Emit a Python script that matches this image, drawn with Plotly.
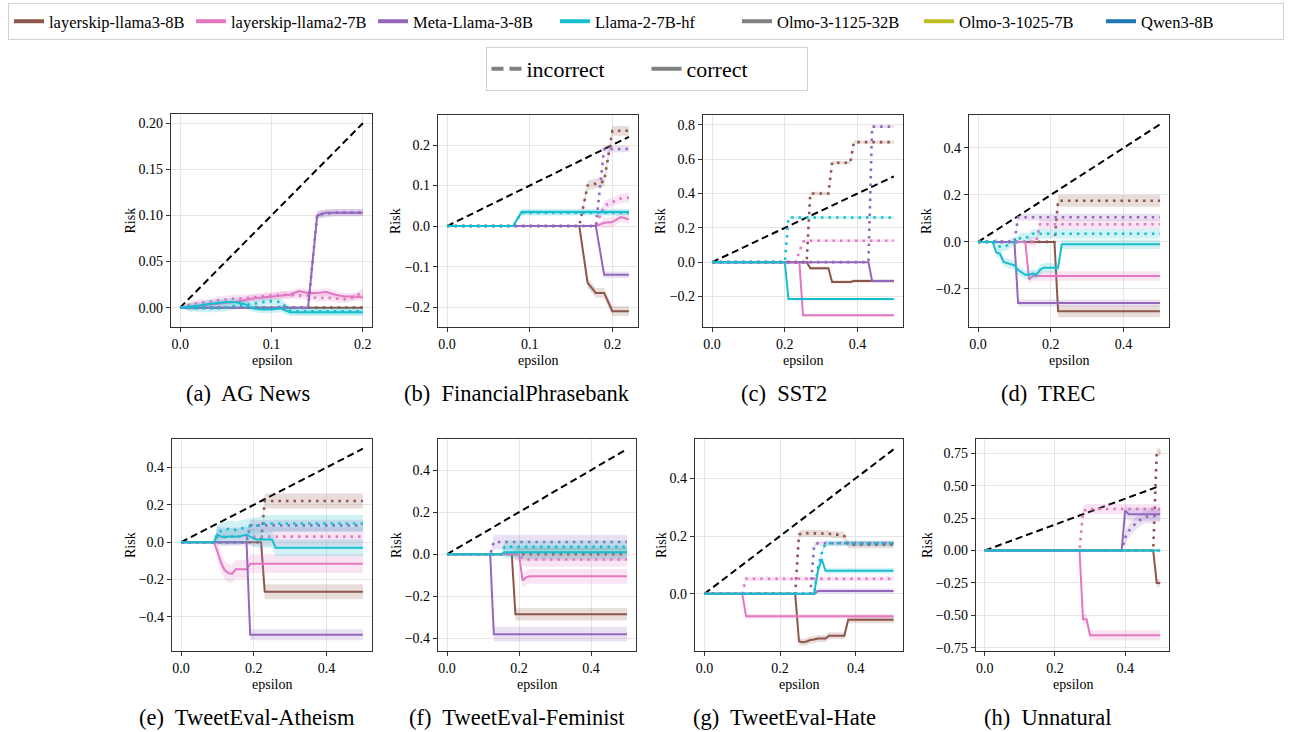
import plotly.graph_objects as go

# ---------------- legend / model data ----------------
MODELS = ["layerskip-llama3-8B", "layerskip-llama2-7B", "Meta-Llama-3-8B", "Llama-2-7B-hf",
          "Olmo-3-1125-32B", "Olmo-3-1025-7B", "Qwen3-8B"]
COLORS = ["#8c564b", "#e377c2", "#9467bd", "#17becf", "#7f7f7f", "#bcbd22", "#1f77b4"]
STYLE_LABELS = ["incorrect", "correct"]
X_TITLE = "epsilon"
Y_TITLE = "Risk"

# ---------------- epsilon grids ----------------
EPS_20 = [0.00, 0.01, 0.02, 0.03, 0.04, 0.05, 0.06, 0.07, 0.08, 0.09, 0.10,
          0.11, 0.12, 0.13, 0.14, 0.15, 0.16, 0.17, 0.18, 0.19, 0.20]
EPS_22 = [0.00, 0.01, 0.02, 0.03, 0.04, 0.05, 0.06, 0.07, 0.08, 0.09, 0.10,
          0.11, 0.12, 0.13, 0.14, 0.15, 0.16, 0.17, 0.18, 0.19, 0.20, 0.21, 0.22]
EPS_50 = [0.00, 0.01, 0.02, 0.03, 0.04, 0.05, 0.06, 0.07, 0.08, 0.09,
          0.10, 0.11, 0.12, 0.13, 0.14, 0.15, 0.16, 0.17, 0.18, 0.19,
          0.20, 0.21, 0.22, 0.23, 0.24, 0.25, 0.26, 0.27, 0.28, 0.29,
          0.30, 0.31, 0.32, 0.33, 0.34, 0.35, 0.36, 0.37, 0.38, 0.39,
          0.40, 0.41, 0.42, 0.43, 0.44, 0.45, 0.46, 0.47, 0.48, 0.49, 0.50]

# Series order in every panel: layerskip-llama3-8B, layerskip-llama2-7B, Meta-Llama-3-8B, Llama-2-7B-hf
# ---------------- (a) AG News ----------------
AG_CORRECT = [
    [0.0] * 21,
    [0, 0.001, 0.002, 0.003, 0.004, 0.005, 0.006, 0.008, 0.010, 0.011, 0.012,
     0.013, 0.014, 0.018, 0.016, 0.016, 0.017, 0.014, 0.012, 0.012, 0.011],
    [0.0] * 15 + [0.100, 0.103, 0.103, 0.103, 0.103, 0.103],
    [0, 0.001, 0.002, 0.004, 0.005, 0.006, 0.006, 0.004, -0.001, -0.002, -0.002,
     -0.001, -0.005, -0.005, -0.005, -0.005, -0.005, -0.005, -0.005, -0.005, -0.005],
]
AG_INCORRECT = [
    [0.0] * 21,
    [0, 0.003, 0.005, 0.006, 0.008, 0.009, 0.010, 0.010, 0.011, 0.012, 0.013,
     0.014, 0.014, 0.013, 0.013, 0.010, 0.011, 0.010, 0.009, 0.011, 0.017],
    [0.0] * 15 + [0.101, 0.102, 0.103, 0.103, 0.103, 0.103],
    [0, 0.000, -0.001, -0.001, -0.001, 0.000, 0.002, 0.003, 0.004, 0.006, 0.007,
     0.006, -0.003, -0.004, -0.004, -0.004, -0.004, -0.004, -0.004, -0.004, -0.004],
]
AG_BAND = [0.001, 0.004, 0.004, 0.004]

# ---------------- (b) FinancialPhrasebank ----------------
FP_CORRECT = [
    [0.0] * 17 + [-0.14, -0.165, -0.165, -0.21, -0.21, -0.21],
    [0.0] * 19 + [0.008, 0.010, 0.022, 0.017],
    [0.0] * 19 + [-0.12, -0.12, -0.12, -0.12],
    [0.0] * 9 + [0.035] * 14,
]
FP_INCORRECT = [
    [0.0] * 17 + [0.10, 0.105, 0.11, 0.235, 0.235, 0.235],
    [0.0] * 19 + [0.05, 0.06, 0.068, 0.07],
    [0.0] * 19 + [0.19, 0.19, 0.19, 0.19],
    [0.0] * 9 + [0.033] * 14,
]
FP_BAND = [0.012, 0.012, 0.008, 0.007]

# ---------------- (c) SST2 ----------------
SST_CORRECT = [
    [0.0] * 27 + [-0.035] * 6 + [-0.115] * 6 + [-0.11] * 12,
    [0.0] * 25 + [-0.31] * 26,
    [0.0] * 44 + [-0.11] * 7,
    [0.0] * 21 + [-0.215] * 30,
]
SST_INCORRECT = [
    [0.0] * 27 + [0.40] * 6 + [0.58] * 6 + [0.70] * 12,
    [0.0] * 24 + [0.06, 0.12] + [0.125] * 25,
    [0.0] * 44 + [0.79] * 7,
    [0.0] * 21 + [0.26] * 30,
]
SST_BAND = [0.01, 0.008, 0.008, 0.008]

# ---------------- (d) TREC ----------------
TREC_CORRECT = [
    [0.0] * 22 + [-0.295] * 29,
    [0.0] * 14 + [-0.16] + [-0.145] * 36,
    [0.0] * 11 + [-0.26] * 40,
    [0.0] * 5 + [-0.045, -0.05, -0.085, -0.09, -0.095, -0.10, -0.12, -0.13, -0.14,
                 -0.14, -0.135, -0.14, -0.12, -0.11, -0.11, -0.11, -0.11, -0.11] + [-0.01] * 28,
]
TREC_INCORRECT = [
    [0.0] * 22 + [0.175] * 29,
    [0.0] * 17 + [0.075] * 34,
    [0.0] * 11 + [0.105] * 40,
    [0.0] * 6 + [-0.02, -0.02, -0.015, -0.005, 0.0, 0.01, 0.02, 0.02, 0.02, 0.035] + [0.035] * 35,
]
TREC_BAND = [0.025, 0.02, 0.015, 0.02]

# ---------------- (e) TweetEval-Atheism ----------------
ATH_CORRECT = [
    [0.0] * 23 + [-0.265] * 28,
    [0.0] * 10 + [-0.05, -0.11, -0.15, -0.165, -0.17, -0.145, -0.145, -0.145, -0.145] + [-0.115] * 32,
    [0.0] * 19 + [-0.495] * 32,
    [0.0] * 10 + [0.04, 0.03, 0.025, 0.03, 0.03, 0.03, 0.03, 0.035, 0.04, 0.03,
                  0.02, 0.015, 0.015, 0.015, 0.015, 0.015] + [-0.03] * 25,
]
ATH_INCORRECT = [
    [0.0] * 23 + [0.22] * 28,
    [0.0] * 10 + [0.03] * 41,
    [0.0] * 19 + [0.09] * 32,
    [0.0] * 10 + [0.05, 0.06, 0.065, 0.07, 0.07, 0.065, 0.07, 0.075, 0.08, 0.085,
                  0.085, 0.09, 0.095, 0.10, 0.10, 0.10] + [0.10] * 25,
]
ATH_BAND = [0.04, 0.05, 0.03, 0.045]

# ---------------- (f) TweetEval-Feminist ----------------
FEM_CORRECT = [
    [0.0] * 19 + [-0.285] * 32,
    [0.0] * 21 + [-0.125, -0.11] + [-0.105] * 28,
    [0.0] * 13 + [-0.38] * 38,
    [0.0] * 16 + [0.01] * 35,
]
FEM_INCORRECT = [
    [0.0] * 51,
    [0.0] * 21 + [-0.02] + [-0.025] * 29,
    [0.0] * 13 + [0.058] * 38,
    [0.0] * 16 + [0.035] * 35,
]
FEM_BAND = [0.03, 0.035, 0.035, 0.03]

# ---------------- (g) TweetEval-Hate ----------------
HATE_CORRECT = [
    [0.0] * 25 + [-0.165, -0.168, -0.165, -0.16, -0.158, -0.155, -0.155, -0.155,
                  -0.145, -0.145, -0.145, -0.145, -0.145] + [-0.09] * 13,
    [0.0] * 11 + [-0.078] * 40,
    [0.0] * 30 + [0.01] * 21,
    [0.0] * 30 + [0.08, 0.12, 0.08] + [0.08] * 18,
]
HATE_INCORRECT = [
    [0.0] * 25 + [0.205, 0.21, 0.21, 0.21, 0.21, 0.21, 0.208, 0.208, 0.208,
                  0.205, 0.205, 0.205, 0.20] + [0.17] * 13,
    [0.0] * 11 + [0.052] * 40,
    [0.0] * 29 + [0.17] + [0.175] * 21,
    [0.0] * 30 + [0.09, 0.14, 0.175] + [0.175] * 18,
]
HATE_BAND = [0.012, 0.008, 0.008, 0.01]

# ---------------- (h) Unnatural ----------------
UNN_CORRECT = [
    [0.0] * 49 + [-0.25, -0.25],
    [0.0] * 28 + [-0.53, -0.53] + [-0.655] * 21,
    [0.0] * 40 + [0.31, 0.28] + [0.28] * 9,
    [0.0] * 51,
]
UNN_INCORRECT = [
    [0.0] * 49 + [0.76, 0.76],
    [0.0] * 28 + [0.30] + [0.32] * 22,
    [0.0] * 40 + [0.10, 0.15, 0.18, 0.21, 0.23, 0.25, 0.26, 0.26, 0.265, 0.27, 0.27],
    [0.0] * 51,
]
UNN_BAND = [0.03, 0.04, 0.05, 0.01]

# ---------------- captions & ticks ----------------
CAPTIONS = ["(a)  AG News", "(b)  FinancialPhrasebank", "(c)  SST2", "(d)  TREC",
            "(e)  TweetEval-Atheism", "(f)  TweetEval-Feminist", "(g)  TweetEval-Hate", "(h)  Unnatural"]

XT_SMALL = [0.0, 0.1, 0.2]
XT_SMALL_TXT = ["0.0", "0.1", "0.2"]
XT_BIG = [0.0, 0.2, 0.4]
XT_BIG_TXT = ["0.0", "0.2", "0.4"]

YT_A = [0.0, 0.05, 0.10, 0.15, 0.20]
YT_A_TXT = ["0.00", "0.05", "0.10", "0.15", "0.20"]
YT_B = [-0.2, -0.1, 0.0, 0.1, 0.2]
YT_B_TXT = ["\u22120.2", "\u22120.1", "0.0", "0.1", "0.2"]
YT_C = [-0.2, 0.0, 0.2, 0.4, 0.6, 0.8]
YT_C_TXT = ["\u22120.2", "0.0", "0.2", "0.4", "0.6", "0.8"]
YT_D = [-0.2, 0.0, 0.2, 0.4]
YT_D_TXT = ["\u22120.2", "0.0", "0.2", "0.4"]
YT_E = [-0.4, -0.2, 0.0, 0.2, 0.4]
YT_E_TXT = ["\u22120.4", "\u22120.2", "0.0", "0.2", "0.4"]
YT_G = [0.0, 0.2, 0.4]
YT_G_TXT = ["0.0", "0.2", "0.4"]
YT_H = [-0.75, -0.5, -0.25, 0.0, 0.25, 0.5, 0.75]
YT_H_TXT = ["\u22120.75", "\u22120.50", "\u22120.25", "0.00", "0.25", "0.50", "0.75"]

PANELS = [
    dict(eps=EPS_20, c=AG_CORRECT, i=AG_INCORRECT, band=AG_BAND, xr=[-0.01, 0.21], yr=[-0.021, 0.21],
         xt=(XT_SMALL, XT_SMALL_TXT), yt=(YT_A, YT_A_TXT), px=(171, 372), py=(114, 327), rx=130),
    dict(eps=EPS_22, c=FP_CORRECT, i=FP_INCORRECT, band=FP_BAND, xr=[-0.011, 0.231], yr=[-0.249, 0.274],
         xt=(XT_SMALL, XT_SMALL_TXT), yt=(YT_B, YT_B_TXT), px=(438, 638), py=(115, 327), rx=396),
    dict(eps=EPS_50, c=SST_CORRECT, i=SST_INCORRECT, band=SST_BAND, xr=[-0.025, 0.525], yr=[-0.378, 0.858],
         xt=(XT_BIG, XT_BIG_TXT), yt=(YT_C, YT_C_TXT), px=(703, 903), py=(115, 327), rx=661),
    dict(eps=EPS_50, c=TREC_CORRECT, i=TREC_INCORRECT, band=TREC_BAND, xr=[-0.025, 0.525], yr=[-0.362, 0.54],
         xt=(XT_BIG, XT_BIG_TXT), yt=(YT_D, YT_D_TXT), px=(969, 1169), py=(115, 327), rx=927),
    dict(eps=EPS_50, c=ATH_CORRECT, i=ATH_INCORRECT, band=ATH_BAND, xr=[-0.025, 0.525], yr=[-0.582, 0.552],
         xt=(XT_BIG, XT_BIG_TXT), yt=(YT_E, YT_E_TXT), px=(172, 372), py=(439, 651), rx=130),
    dict(eps=EPS_50, c=FEM_CORRECT, i=FEM_INCORRECT, band=FEM_BAND, xr=[-0.025, 0.525], yr=[-0.46, 0.548],
         xt=(XT_BIG, XT_BIG_TXT), yt=(YT_E, YT_E_TXT), px=(438, 636), py=(439, 651), rx=396),
    dict(eps=EPS_50, c=HATE_CORRECT, i=HATE_INCORRECT, band=HATE_BAND, xr=[-0.025, 0.525], yr=[-0.198, 0.536],
         xt=(XT_BIG, XT_BIG_TXT), yt=(YT_G, YT_G_TXT), px=(695, 903), py=(439, 651), rx=661),
    dict(eps=EPS_50, c=UNN_CORRECT, i=UNN_INCORRECT, band=UNN_BAND, xr=[-0.025, 0.525], yr=[-0.776, 0.861],
         xt=(XT_BIG, XT_BIG_TXT), yt=(YT_H, YT_H_TXT), px=(976, 1169), py=(439, 651), rx=927),
]
CAPTION_POS = [(248, 393), (517, 393), (784, 393), (1048, 393),
               (247, 717), (517, 717), (784, 717), (1047, 717)]

W, H = 1292, 732
FONT = "Liberation Serif"


def rgba(hexcol, a):
    h = hexcol.lstrip("#")
    return "rgba(%d,%d,%d,%g)" % (int(h[0:2], 16), int(h[2:4], 16), int(h[4:6], 16), a)


fig = go.Figure()

for k, p in enumerate(PANELS):
    sfx = "" if k == 0 else str(k + 1)
    xa, ya = "x" + sfx, "y" + sfx
    eps = p["eps"]
    # y = x reference line
    fig.add_trace(go.Scatter(x=[eps[0], eps[-1]], y=[eps[0], eps[-1]], mode="lines",
                             line=dict(color="black", width=2, dash="7px,4px"),
                             xaxis=xa, yaxis=ya, showlegend=False, hoverinfo="skip"))
    for m in range(4):
        col = COLORS[m]
        hw = p["band"][m]
        cvals, ivals = p["c"][m], p["i"][m]
        active = [(a != 0) or (b != 0) for a, b in zip(cvals, ivals)]
        for vals, dash, lw in ((cvals, "solid", 2), (ivals, "2.5px,5px", 2.6)):
            hi = [v + (hw if act else 0) for v, act in zip(vals, active)]
            lo = [v - (hw if act else 0) for v, act in zip(vals, active)]
            fig.add_trace(go.Scatter(x=list(eps) + list(eps[::-1]), y=hi + lo[::-1],
                                     fill="toself", fillcolor=rgba(col, 0.2), mode="lines",
                                     line=dict(width=0, color=rgba(col, 0)),
                                     xaxis=xa, yaxis=ya, showlegend=False, hoverinfo="skip"))
            fig.add_trace(go.Scatter(x=eps, y=vals, mode="lines",
                                     line=dict(color=col, width=lw, dash=dash),
                                     xaxis=xa, yaxis=ya, showlegend=False, hoverinfo="skip"))

    x0, x1 = p["px"]
    y0, y1 = p["py"]
    axis_common = dict(showline=True, mirror=True, linecolor="#333333", linewidth=1.2,
                       ticks="outside", ticklen=4, tickcolor="#333333", tickwidth=1,
                       showgrid=True, gridcolor="#e6e6e6", gridwidth=1, zeroline=False,
                       tickfont=dict(family=FONT, size=14, color="black"))
    fig.update_layout(**{
        ("xaxis" + sfx): dict(domain=[x0 / W, x1 / W], anchor=ya, range=p["xr"],
                              tickmode="array", tickvals=p["xt"][0], ticktext=p["xt"][1],
                              **axis_common),
        ("yaxis" + sfx): dict(domain=[1 - y1 / H, 1 - y0 / H], anchor=xa, range=p["yr"],
                              tickmode="array", tickvals=p["yt"][0], ticktext=p["yt"][1],
                              **axis_common),
    })
    # axis titles
    title_y = 360 if y1 < 400 else 684
    fig.add_annotation(x=(x0 + x1) / 2 / W, y=1 - title_y / H, xref="paper", yref="paper",
                       text=X_TITLE, showarrow=False, xanchor="center", yanchor="middle",
                       font=dict(family=FONT, size=14, color="black"))
    fig.add_annotation(x=p["rx"] / W, y=1 - (y0 + y1) / 2 / H, xref="paper", yref="paper",
                       text=Y_TITLE, textangle=-90, showarrow=False, xanchor="center", yanchor="middle",
                       font=dict(family=FONT, size=14, color="black"))
    cx, cy = CAPTION_POS[k]
    fig.add_annotation(x=cx / W, y=1 - cy / H, xref="paper", yref="paper", text=CAPTIONS[k],
                       showarrow=False, xanchor="center", yanchor="middle",
                       font=dict(family=FONT, size=22.5, color="black"))

# legend entries (models)
for name, col in zip(MODELS, COLORS):
    fig.add_trace(go.Scatter(x=[None], y=[None], mode="lines", name=name,
                             line=dict(color=col, width=4), legend="legend", showlegend=True))
# legend entries (line styles)
fig.add_trace(go.Scatter(x=[None], y=[None], mode="lines", name=STYLE_LABELS[0],
                         line=dict(color="#808080", width=4, dash="12px,6px"), legend="legend2", showlegend=True))
fig.add_trace(go.Scatter(x=[None], y=[None], mode="lines", name=STYLE_LABELS[1],
                         line=dict(color="#808080", width=4), legend="legend2", showlegend=True))

fig.update_layout(
    width=W, height=H, margin=dict(l=0, r=0, t=0, b=0, autoexpand=False),
    plot_bgcolor="white", paper_bgcolor="white",
    font=dict(family=FONT, size=14, color="black"),
    legend=dict(orientation="h", x=0.5, xanchor="center", y=1 - 3 / H, yanchor="top",
                bordercolor="#d0d0d0", borderwidth=1, bgcolor="white",
                font=dict(family=FONT, size=16.5, color="black"),
                entrywidth=137, entrywidthmode="pixels", traceorder="normal"),
    legend2=dict(orientation="h", x=646.5 / W, xanchor="center", y=1 - 47 / H, yanchor="top",
                 bordercolor="#d0d0d0", borderwidth=1, bgcolor="white",
                 font=dict(family=FONT, size=22, color="black"),
                 entrywidth=115, entrywidthmode="pixels"),
)

fig.write_html("out.html", config={"displayModeBar": False},
               post_script="document.body.style.margin='0';document.body.style.overflow='hidden';")
